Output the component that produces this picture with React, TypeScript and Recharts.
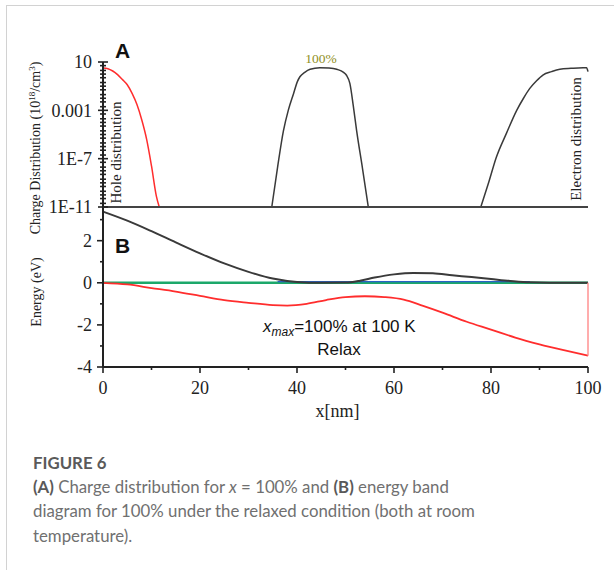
import { LineChart, Line, XAxis, YAxis } from 'recharts'

const SERIF = '"Liberation Serif", "Times New Roman", serif'
const SANS = '"Liberation Sans", Arial, sans-serif'
const CAPTION_FONT = 'Lato, "Open Sans", sans-serif'

// (A) charge distribution, 10^18 cm^-3 on a log axis
const holeX = [0, 1, 2, 3, 4, 5, 6, 7, 8, 9, 10, 11, 11.6]
const holeDensity = [3.2, 2.8, 1.8, 0.9, 0.35, 0.13, 0.025, 3e-3, 1.6e-4, 4e-6, 2.5e-8, 8e-11, 1e-11]

const wellX = [34.8, 36, 37.2, 38.2, 39.3, 40.1, 40.6, 41.6, 42.7, 44.7, 46.6, 48.2, 49.6, 50.2, 50.9, 51.6, 52.3, 53.5, 54.7]
const wellDensity = [1e-11, 2e-8, 2e-5, 1e-3, 0.025, 0.25, 0.6, 1.4, 2.5, 3.4, 3.2, 2.5, 1.4, 0.8, 0.17, 2.5e-3, 2e-5, 1.6e-8, 1e-11]

const electronX = [77.9, 79.5, 81.1, 83.2, 85.3, 86.7, 88, 89.4, 90.7, 92.5, 94.2, 96.5, 99, 99.7, 100]
const electronDensity = [1e-11, 1e-9, 1.3e-7, 1.3e-5, 1e-3, 0.01, 0.065, 0.28, 0.83, 1.6, 2.5, 3.0, 3.4, 3.3, 1.6]

// (B) band diagram, eV
const conductionX = [0, 5, 10, 15, 20, 25, 30, 35, 40, 45, 50, 53, 56, 60, 64, 68, 72, 76, 80, 84, 88, 92, 96, 100]
const conductionBand = [3.38, 2.95, 2.45, 1.92, 1.4, 0.92, 0.52, 0.2, 0.04, 0, 0.01, 0.1, 0.25, 0.4, 0.47, 0.45, 0.36, 0.27, 0.18, 0.09, 0.02, 0, 0, 0]

const valenceX = [0, 5, 10, 15, 20, 25, 30, 35, 38, 42, 46, 50, 54, 58, 62, 66, 70, 75, 80, 85, 90, 95, 100]
const valenceBand = [0, -0.08, -0.25, -0.42, -0.62, -0.82, -0.95, -1.06, -1.08, -1.0, -0.82, -0.68, -0.64, -0.68, -0.8, -1.1, -1.42, -1.85, -2.22, -2.6, -2.92, -3.2, -3.46]

const edgeX = [100, 100]
const edgeLevel = [-3.46, 0]

const fermiX = [0, 100]
const fermiLevel = [0, 0]

const quasiX = [36, 88]
const quasiLevel = [0.06, 0.06]

// axis ticks
const densityLabelValues = [10, 1e-3, 1e-7, 1e-11]
const densityLabels = ['10', '0.001', '1E-7', '1E-11']
const densityTicks: number[] = []
for (let e = -11; e <= 0; e++) for (const m of [1, 2, 5]) densityTicks.push(Number(`${m}e${e}`))
densityTicks.push(10)

const energyTicks = [-4, -3, -2, -1, 0, 1, 2, 3]
const energyLabelValues = [-4, -2, 0, 2]
const positionTicks = [0, 10, 20, 30, 40, 50, 60, 70, 80, 90, 100]
const positionLabelValues = [0, 20, 40, 60, 80, 100]

const pts = (xs: number[], ys: number[]) => xs.map((x, i) => ({ x, y: ys[i] }))

const AXIS = '#222'
const CURVE = '#3a3a3a'

function DensityTick(props: any) {
  const { x, y, payload } = props
  const idx = densityLabelValues.indexOf(payload.value)
  const len = idx >= 0 ? 5 : 3
  return (
    <g>
      <line x1={x - len} x2={x + len} y1={y} y2={y} stroke={AXIS} strokeWidth={1.6} />
      {idx >= 0 && (
        <text x={x - 11} y={y} dy="0.35em" textAnchor="end" fontFamily={SERIF} fontSize={18} fill={AXIS}>
          {densityLabels[idx]}
        </text>
      )}
    </g>
  )
}

function EnergyTick(props: any) {
  const { x, y, payload } = props
  const major = energyLabelValues.includes(payload.value)
  return (
    <g>
      <line x1={x - (major ? 6 : 3)} x2={x} y1={y} y2={y} stroke={AXIS} strokeWidth={1.6} />
      {major && (
        <text x={x - 11} y={y} dy="0.35em" textAnchor="end" fontFamily={SERIF} fontSize={18} fill={AXIS}>
          {payload.value}
        </text>
      )}
    </g>
  )
}

function PositionTick(props: any) {
  const { x, y, payload } = props
  const major = positionLabelValues.includes(payload.value)
  return (
    <g>
      <line x1={x} x2={x} y1={y} y2={y + (major ? 6 : 3)} stroke={AXIS} strokeWidth={1.6} />
      {major && (
        <text x={x} y={y + 26.5} textAnchor="middle" fontFamily={SERIF} fontSize={18} fill={AXIS}>
          {payload.value}
        </text>
      )}
    </g>
  )
}

function ChargePanel() {
  return (
    <LineChart width={614} height={235} margin={{ top: 62, right: 26, bottom: 8, left: 43 }}>
      <XAxis type="number" dataKey="x" domain={[0, 100]} height={20} tick={false} tickLine={false}
        axisLine={{ stroke: '#444', strokeWidth: 2 }} />
      <YAxis type="number" scale="log" domain={[1e-11, 10]} allowDataOverflow ticks={densityTicks}
        interval={0} width={60} tickSize={0} tickMargin={0} tickLine={false} tick={DensityTick}
        axisLine={{ stroke: AXIS, strokeWidth: 2 }} />
      <Line data={pts(holeX, holeDensity)} dataKey="y" type="monotone" stroke="#ff2d2d"
        strokeWidth={1.5} dot={false} isAnimationActive={false} />
      <Line data={pts(wellX, wellDensity)} dataKey="y" type="monotone" stroke={CURVE}
        strokeWidth={1.5} dot={false} isAnimationActive={false} />
      <Line data={pts(electronX, electronDensity)} dataKey="y" type="monotone" stroke={CURVE}
        strokeWidth={1.5} dot={false} isAnimationActive={false} />
    </LineChart>
  )
}

function BandPanel() {
  return (
    <LineChart width={614} height={440} margin={{ top: 207, right: 26, bottom: 18, left: 43 }}>
      <XAxis type="number" dataKey="x" domain={[0, 100]} ticks={positionTicks} interval={0}
        height={55} tickSize={0} tickMargin={0} tickLine={false} tick={PositionTick}
        axisLine={{ stroke: AXIS, strokeWidth: 2 }} />
      <YAxis type="number" domain={[-4, 3.6]} allowDataOverflow ticks={energyTicks} interval={0}
        width={60} tickSize={0} tickMargin={0} tickLine={false} tick={EnergyTick}
        axisLine={{ stroke: AXIS, strokeWidth: 2 }} />
      <Line data={pts(fermiX, fermiLevel)} dataKey="y" type="linear" stroke="#1ca86a"
        strokeWidth={2.6} dot={false} isAnimationActive={false} />
      <Line data={pts(quasiX, quasiLevel)} dataKey="y" type="linear" stroke="#2a62c4"
        strokeWidth={1.3} dot={false} isAnimationActive={false} />
      <Line data={pts(conductionX, conductionBand)} dataKey="y" type="monotone" stroke={CURVE}
        strokeWidth={2} dot={false} isAnimationActive={false} />
      <Line data={pts(valenceX, valenceBand)} dataKey="y" type="monotone" stroke="#ff2d2d"
        strokeWidth={1.8} dot={false} isAnimationActive={false} />
      <Line data={pts(edgeX, edgeLevel)} dataKey="y" type="linear" stroke="#ff8a8a"
        strokeWidth={1.4} dot={false} isAnimationActive={false} />
    </LineChart>
  )
}

function Annotations() {
  return (
    <svg width={614} height={440} style={{ position: 'absolute', left: 0, top: 0, pointerEvents: 'none' }}>
      <text x={115} y={58} fontFamily={SANS} fontWeight="bold" fontSize={21} fill="#111">A</text>
      <text x={115} y={253} fontFamily={SANS} fontWeight="bold" fontSize={21} fill="#111">B</text>
      <text x={321} y={63} textAnchor="middle" fontFamily={SERIF} fontSize={13.5} fill="#8f8f24">100%</text>
      <text transform="translate(121,152.5) rotate(-90)" textAnchor="middle" fontFamily={SERIF} fontSize={15} fill="#222">
        Hole distribution
      </text>
      <text transform="translate(581,139) rotate(-90)" textAnchor="middle" fontFamily={SERIF} fontSize={15} fill="#222">
        Electron distribution
      </text>
      <text transform="translate(40,148) rotate(-90)" textAnchor="middle" fontFamily={SERIF} fontSize={14} fill="#222">
        Charge Distribution (10
        <tspan dy={-5} fontSize={9}>18</tspan>
        <tspan dy={5}>/cm</tspan>
        <tspan dy={-5} fontSize={9}>3</tspan>
        <tspan dy={5}>)</tspan>
      </text>
      <text transform="translate(41,292) rotate(-90)" textAnchor="middle" fontFamily={SERIF} fontSize={14} fill="#222">
        Energy (eV)
      </text>
      <text x={263} y={331.5} fontFamily={SANS} fontSize={17} fill="#111">
        <tspan fontStyle="italic">x</tspan>
        <tspan fontStyle="italic" fontSize={12} dy={4}>max</tspan>
        <tspan dy={-4}>=100% at 100 K</tspan>
      </text>
      <text x={339} y={354.5} textAnchor="middle" fontFamily={SANS} fontSize={17} fill="#111">Relax</text>
      <text x={337.5} y={417} textAnchor="middle" fontFamily={SERIF} fontSize={18} fill="#222">x[nm]</text>
    </svg>
  )
}

const captionLine = (top: number): React.CSSProperties => ({
  position: 'absolute', left: 33, top, whiteSpace: 'nowrap',
  fontFamily: CAPTION_FONT, fontSize: 16.8, lineHeight: '24.4px', color: '#707070',
})

export default function App() {
  return (
    <div style={{ position: 'relative', width: 614, height: 570, background: '#fff', overflow: 'hidden' }}>
      <style>{'body{margin:0}'}</style>
      <div style={{ position: 'absolute', left: 6, top: 5, width: 620, height: 600,
        borderTop: '1px solid #d2d2d2', borderLeft: '1px solid #d2d2d2' }} />
      <div style={{ position: 'absolute', left: 0, top: 0 }}><BandPanel /></div>
      <div style={{ position: 'absolute', left: 0, top: 0 }}><ChargePanel /></div>
      <Annotations />
      <div style={{ ...captionLine(451), fontWeight: 700, color: '#5a5a5a' }}>FIGURE 6</div>
      <div style={captionLine(475)}>
        <b style={{ color: '#595959' }}>(A)</b> Charge distribution for <i>x</i> = 100% and{' '}
        <b style={{ color: '#595959' }}>(B)</b> energy band
      </div>
      <div style={captionLine(499.4)}>diagram for 100% under the relaxed condition (both at room</div>
      <div style={captionLine(523.8)}>temperature).</div>
    </div>
  )
}
